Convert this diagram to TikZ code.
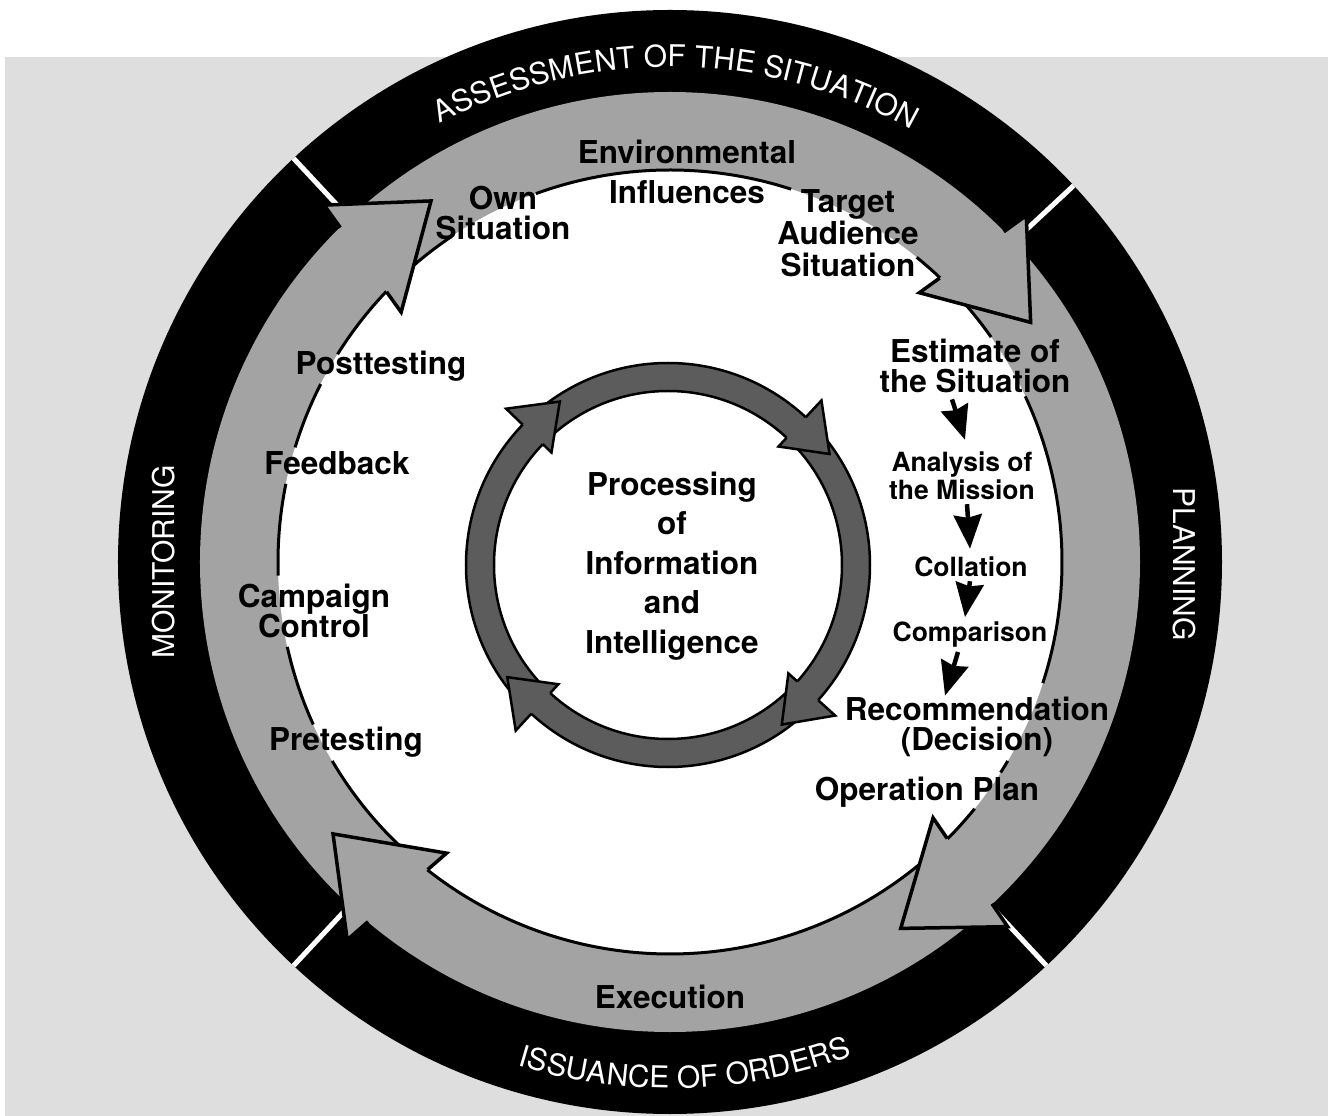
\documentclass[tikz,border=0pt]{standalone}
\usepackage{fontspec}
\setmainfont{TeX Gyre Heros}
\usetikzlibrary{decorations.text, arrows.meta, calc}
\definecolor{bggray}{gray}{0.87}
\definecolor{ringgray}{gray}{0.64}
\definecolor{innergray}{gray}{0.36}
\begin{document}
\begin{tikzpicture}[x=1pt, y=1pt,
  lbl/.style={font=\bfseries\fontsize{31.5}{30.5}\selectfont, align=center, inner sep=0pt},
  smalllbl/.style={font=\bfseries\fontsize{26.5}{28}\selectfont, align=center, inner sep=0pt},
  ringtext/.style={font=\fontsize{30}{30}\selectfont, text=white, inner sep=0pt},
  thinarc/.style={line width=3pt},
  bigarrow/.style={fill=ringgray, draw=black, line width=3.5pt, line join=miter},
  smallarrow/.style={fill=innergray, draw=black, line width=2.5pt, line join=miter},
  chainarrow/.style={line width=4.5pt, -{Stealth[length=34pt, width=28pt, inset=3pt]}},
  sepline/.style={white, line width=5pt}
]
\useasboundingbox (-670,-554) rectangle (658,562);
\fill[bggray] (-665,-554) rectangle (658,505);
% rings
\fill[black] (0,0) circle[radius=552];
\fill[ringgray] (0,0) circle[radius=470];
\fill[white] (0,0) circle[radius=392];
\foreach \a in {133,43,-47,-133} \draw[sepline] (\a:470) -- (\a:552);
% ring titles
\path[decorate, decoration={text along path, text align=center,
  text={|\fontsize{30}{30}\selectfont\color{white}|ASSESSMENT OF THE SITUATION}}]
  (149.25:495) arc[start angle=149.25, end angle=29.25, radius=495];
\path[decorate, decoration={text along path, text align=center,
  text={|\fontsize{30}{30}\selectfont\color{white}|ISSUANCE OF ORDERS}}]
  (-148.3:526) arc[start angle=-148.3, end angle=-28.3, radius=526];
\node[ringtext, rotate=90] (mon) at (-506,0) {MONITORING};
\node[ringtext, rotate=-90] (plan) at (514,-2) {PLANNING};
% thin inner edges of the cycle band
\foreach \s/\e in {-32.5/-30.5, -18/25, 35/51, 72/110, 124/148, 153/163, 168.5/182, 192.5/204.5, 210.5/321}
  \draw[thinarc] (\s:392) arc[start angle=\s, end angle=\e, radius=392];
% big arrowheads
\foreach \p in {137.1, 47.2, -44.2, -127.5} {
  \coordinate (bi) at (\p:367);
  \coordinate (bo) at ({\p-3}:497);
  \coordinate (tp) at ({\p-13.6}:433);
  \path[bigarrow] ($(bi)!0.19!(bo)$) -- (bi) -- (tp) -- (bo) -- ($(bi)!0.79!(bo)$);
}
% inner processing ring
\begin{scope}[shift={(-2,-3)}]
  \fill[innergray, even odd rule] (0,0) circle[radius=202] (0,0) circle[radius=174];
  \draw[line width=2.5pt] (0,0) circle[radius=202];
  \draw[line width=2.5pt] (0,0) circle[radius=174];
  \foreach \p in {136, 47, -42, -132.6}
    \path[smallarrow] (\p:174) -- (\p:162) -- ({\p-12.5}:196) -- (\p:225) -- (\p:202);
\end{scope}
% labels
\node[lbl, font=\bfseries\fontsize{31.5}{39.5}\selectfont] (proc) at (2,-4) {Processing\\of\\Information\\and\\Intelligence};
\node[lbl] (env) at (17,410) {Environmental};
\node[lbl] (infl) at (17,370) {Influences};
\node[lbl] (own) at (-167,349) {Own\\Situation};
\node[lbl, font=\bfseries\fontsize{31.5}{32}\selectfont] (tas) at (178,329) {Target\\Audience\\Situation};
\node[lbl] (est) at (305,196) {Estimate of\\the Situation};
\node[smalllbl] (ana) at (292,86) {Analysis of\\the Mission};
\node[smalllbl] (col) at (301,-5) {Collation};
\node[smalllbl] (comp) at (300,-73) {Comparison};
\node[lbl] (rec) at (307,-165) {Recommendation\\(Decision)};
\node[lbl] (op) at (257,-230) {Operation Plan};
\node[lbl] (post) at (-289,196) {Posttesting};
\node[lbl] (feed) at (-333,99) {Feedback};
\node[lbl] (camp) at (-356,-49) {Campaign\\Control};
\node[lbl] (pre) at (-324,-180) {Pretesting};
\node[lbl] (exe) at (0,-435) {Execution};
% chain of the estimate
\draw[chainarrow] ([xshift=-23pt,yshift=-6pt]est.south) -- ([xshift=3pt,yshift=12pt]ana.north);
\draw[chainarrow] ([xshift=5pt,yshift=-4pt]ana.south) -- ([xshift=-1pt,yshift=8pt]col.north);
\draw[chainarrow] ([xshift=-1pt,yshift=-4pt]col.south) -- ([xshift=-5pt,yshift=5pt]comp.north);
\draw[chainarrow] ([xshift=-12pt,yshift=-4pt]comp.south) -- ([xshift=-32pt,yshift=1pt]rec.north);
\end{tikzpicture}
\end{document}
